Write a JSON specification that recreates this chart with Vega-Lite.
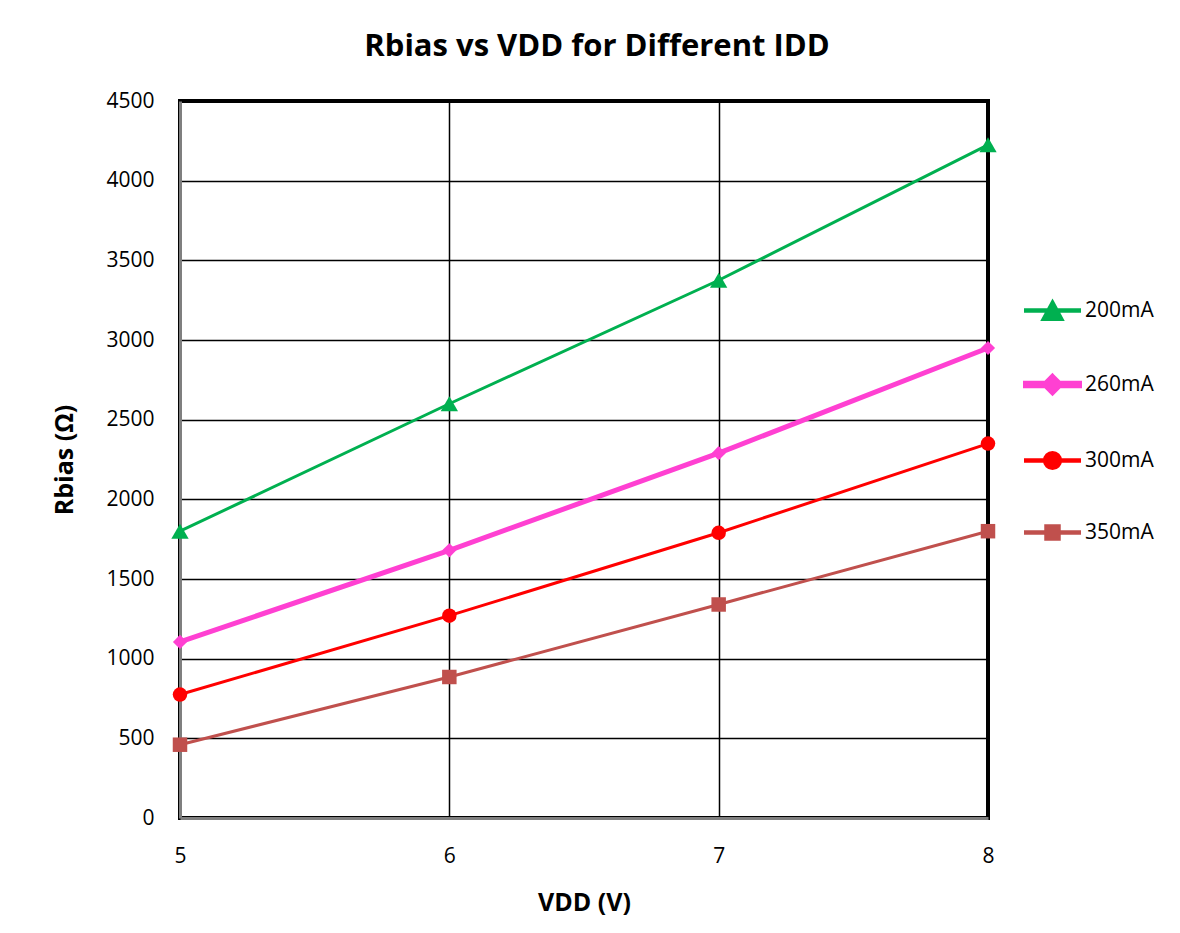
{
  "$schema": "https://vega.github.io/schema/vega-lite/v6.json",
  "width": 808,
  "height": 717,
  "autosize": {"type": "none"},
  "padding": {"left": 180, "top": 101, "right": 192, "bottom": 115},
  "background": "white",
  "title": {
    "text": "Rbias vs VDD for Different IDD",
    "font": "Open Sans",
    "fontSize": 31,
    "fontWeight": "bold",
    "color": "black",
    "anchor": "middle",
    "offset": 27,
    "dx": 13
  },
  "config": {
    "view": {"stroke": "black", "strokeWidth": 4},
    "axis": {
      "labelFont": "Open Sans",
      "labelFontSize": 21,
      "labelColor": "black",
      "labelFlush": false,
      "titleFont": "Open Sans",
      "titleFontSize": 25,
      "titleFontWeight": "bold",
      "titleColor": "black",
      "grid": true,
      "gridColor": "black",
      "gridWidth": 1.5,
      "gridOpacity": 1,
      "ticks": false,
      "domainColor": "#7f7f7f",
      "domainWidth": 3
    },
    "legend": {"labelFont": "Open Sans", "labelFontSize": 21, "labelColor": "black"}
  },
  "data": {
    "values": [
      {"VDD": 5, "Rbias": 1800, "IDD": "200mA"},
      {"VDD": 6, "Rbias": 2600, "IDD": "200mA"},
      {"VDD": 7, "Rbias": 3375, "IDD": "200mA"},
      {"VDD": 8, "Rbias": 4225, "IDD": "200mA"},
      {"VDD": 5, "Rbias": 1105, "IDD": "260mA"},
      {"VDD": 6, "Rbias": 1680, "IDD": "260mA"},
      {"VDD": 7, "Rbias": 2290, "IDD": "260mA"},
      {"VDD": 8, "Rbias": 2950, "IDD": "260mA"},
      {"VDD": 5, "Rbias": 775, "IDD": "300mA"},
      {"VDD": 6, "Rbias": 1270, "IDD": "300mA"},
      {"VDD": 7, "Rbias": 1790, "IDD": "300mA"},
      {"VDD": 8, "Rbias": 2350, "IDD": "300mA"},
      {"VDD": 5, "Rbias": 460, "IDD": "350mA"},
      {"VDD": 6, "Rbias": 885, "IDD": "350mA"},
      {"VDD": 7, "Rbias": 1340, "IDD": "350mA"},
      {"VDD": 8, "Rbias": 1800, "IDD": "350mA"}
    ]
  },
  "encoding": {
    "x": {
      "field": "VDD",
      "type": "quantitative",
      "scale": {"domain": [5, 8], "nice": false},
      "axis": {"values": [5, 6, 7, 8], "format": "d", "title": "VDD (V)", "labelPadding": 27, "titlePadding": 24}
    },
    "y": {
      "field": "Rbias",
      "type": "quantitative",
      "scale": {"domain": [0, 4500], "nice": false},
      "axis": {"values": [0, 500, 1000, 1500, 2000, 2500, 3000, 3500, 4000, 4500], "format": "d", "title": "Rbias (Ω)", "labelPadding": 26, "titlePadding": 28}
    },
    "color": {
      "field": "IDD",
      "type": "nominal",
      "scale": {"domain": ["200mA", "260mA", "300mA", "350mA"], "range": ["#00B050", "#FF40D2", "#FF0000", "#C0504D"]},
      "legend": {
        "title": null,
        "orient": "none",
        "legendX": 843,
        "legendY": 181,
        "symbolSize": 2916,
        "labelOffset": 3,
        "rowPadding": 29,
        "symbolStrokeWidth": 0,
        "encode": {
          "symbols": {
            "update": {
              "fill": {"signal": "scale('color', datum.value)"},
              "fillOpacity": {"value": 1},
              "strokeWidth": {"value": 0},
              "shape": {"signal": "datum.value === '200mA' ? 'M-1,-0.03H1V0.03H-1Z M0,-0.33L0.36,0.33H-0.36Z' : datum.value === '260mA' ? 'M-1,-0.05H1V0.05H-1Z M0,-0.3L0.3,0L0,0.3L-0.3,0Z' : datum.value === '300mA' ? 'M-1,-0.03H1V0.03H-1Z M-0.3,0A0.3,0.3 0 1,0 0.3,0A0.3,0.3 0 1,0 -0.3,0Z' : 'M-1,-0.03H1V0.03H-1Z M-0.25,-0.25H0.25V0.25H-0.25Z'"}
            }
          }
        }
      }
    }
  },
  "layer": [
    {
      "mark": {"type": "line"},
      "encoding": {
        "strokeWidth": {
          "field": "IDD",
          "type": "nominal",
          "scale": {"type": "ordinal", "domain": ["200mA", "260mA", "300mA", "350mA"], "range": [3, 5, 3, 3]},
          "legend": null
        }
      }
    },
    {
      "transform": [{"filter": "datum.IDD === '200mA'"}],
      "mark": {"type": "point", "shape": "triangle-up", "filled": true, "opacity": 1, "size": 300}
    },
    {
      "transform": [{"filter": "datum.IDD === '260mA'"}],
      "mark": {"type": "point", "shape": "diamond", "filled": true, "opacity": 1, "size": 200}
    },
    {
      "transform": [{"filter": "datum.IDD === '300mA'"}],
      "mark": {"type": "point", "shape": "circle", "filled": true, "opacity": 1, "size": 210}
    },
    {
      "transform": [{"filter": "datum.IDD === '350mA'"}],
      "mark": {"type": "point", "shape": "square", "filled": true, "opacity": 1, "size": 210}
    }
  ]
}
